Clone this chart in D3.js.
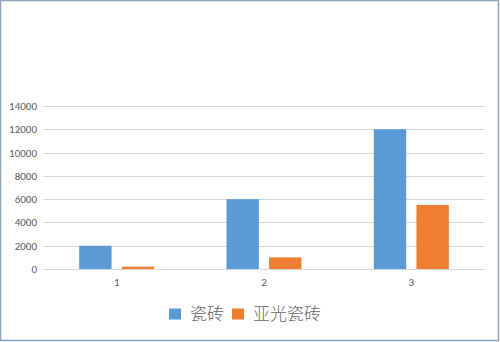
<!DOCTYPE html>
<html>
<head>
<meta charset="utf-8">
<script src="https://cdn.jsdelivr.net/npm/d3@7"></script>
<style>
  body { margin: 0; background: #fff; }
  svg { display: block; font-family: "Noto Sans CJK SC", "DejaVu Sans", sans-serif; }
</style>
</head>
<body>
<svg id="chart"></svg>
<script>
// data
const categories = ['1', '2', '3'];
const seriesNames = ['瓷砖', '亚光瓷砖'];
const tiles = [2000, 6000, 12000];
const matteTiles = [200, 1000, 5500];
const yTicks = [0, 2000, 4000, 6000, 8000, 10000, 12000, 14000];

const colors = ['#5b9bd5', '#ed7d31'];
const width = 500, height = 342;
const margin = {top: 106, right: 15, bottom: 73, left: 43};

const svg = d3.select('#chart')
    .attr('width', width)
    .attr('height', height);

// outer border
svg.append('rect')
    .attr('x', 0.5).attr('y', 0.5)
    .attr('width', 498).attr('height', 340)
    .attr('fill', '#fff')
    .attr('stroke', '#8ea2c0')
    .attr('stroke-width', 1.5);

const innerW = width - margin.left - margin.right;
const innerH = height - margin.top - margin.bottom;

const chart = svg.append('g')
    .attr('transform', `translate(${margin.left}, ${margin.top})`);

const xscale = d3.scaleBand()
    .domain(categories)
    .range([0, innerW]);

const x1 = d3.scaleBand()
    .domain(seriesNames)
    .range([0, 75])
    .paddingInner(0.24);

const yscale = d3.scaleLinear()
    .domain([0, 14000])
    .range([innerH, 0]);

// gridlines
chart.append('g')
    .selectAll('line')
    .data(yTicks)
    .join('line')
    .attr('x1', 0)
    .attr('x2', innerW)
    .attr('y1', d => Math.round(yscale(d)) + 0.5)
    .attr('y2', d => Math.round(yscale(d)) + 0.5)
    .attr('stroke', '#d9d9d9')
    .attr('stroke-width', 1);

// y axis labels
const yaxis = d3.axisLeft(yscale)
    .tickValues(yTicks)
    .tickFormat(d3.format('d'))
    .tickSize(0)
    .tickPadding(6);
const yg = chart.append('g').call(yaxis);
yg.select('.domain').remove();
yg.selectAll('text')
    .attr('fill', '#595959')
    .style('font-size', '11px')
    .style('font-family', 'Calibri, Carlito, "Liberation Sans", sans-serif');

// x axis labels
const xaxis = d3.axisBottom(xscale).tickSize(0).tickPadding(9);
const xg = chart.append('g')
    .attr('transform', `translate(0, ${innerH})`)
    .call(xaxis);
xg.select('.domain').remove();
xg.selectAll('text')
    .attr('fill', '#595959')
    .style('font-size', '11px')
    .style('font-family', 'Calibri, Carlito, "Liberation Sans", sans-serif');

// bars
const rows = categories.map((c, i) => ({cat: c, values: [tiles[i], matteTiles[i]]}));
const groups = chart.selectAll('.grp')
    .data(rows)
    .join('g')
    .attr('class', 'grp')
    .attr('transform', d => `translate(${xscale(d.cat) + xscale.bandwidth() / 2 - 37.5}, 0)`);

groups.selectAll('rect')
    .data(d => d.values.map((v, j) => ({name: seriesNames[j], value: v, j: j})))
    .join('rect')
    .attr('x', d => x1(d.name))
    .attr('y', d => yscale(d.value))
    .attr('width', x1.bandwidth())
    .attr('height', d => yscale(0) - yscale(d.value))
    .attr('fill', d => colors[d.j]);

// legend
const legend = svg.append('g')
    .attr('transform', 'translate(169, 314)');
const legendX = [0, 63];
seriesNames.forEach((name, i) => {
    const item = legend.append('g').attr('transform', `translate(${legendX[i]}, 0)`);
    item.append('rect')
        .attr('x', 0).attr('y', -5.5)
        .attr('width', 12).attr('height', 11)
        .attr('fill', colors[i]);
    item.append('text')
        .attr('x', 21)
        .attr('y', 0)
        .attr('dy', '0.35em')
        .attr('fill', '#666')
        .style('font-size', '17px')
        .style('font-weight', 300)
        .text(name);
});
</script>
</body>
</html>
